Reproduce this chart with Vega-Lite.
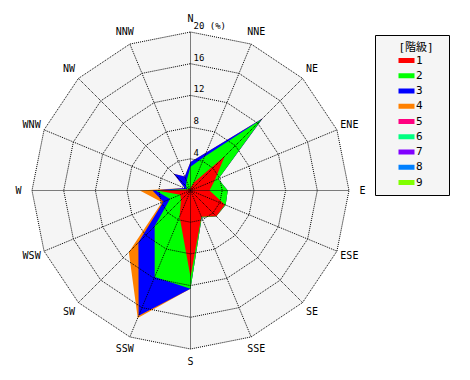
{
  "$schema": "https://vega.github.io/schema/vega-lite/v6.json",
  "width": 317,
  "height": 317,
  "autosize": "none",
  "padding": {"left": 32, "top": 32, "right": 121, "bottom": 31},
  "background": "white",
  "config": {"view": {"stroke": null}, "font": "DejaVu Sans Mono"},
  "datasets": {
    "wind": [
      {"cls": "1", "d": 0, "v": 0.3}, {"cls": "1", "d": 1, "v": 1.1}, {"cls": "1", "d": 2, "v": 6.1}, {"cls": "1", "d": 3, "v": 3.3},
      {"cls": "1", "d": 4, "v": 2.4}, {"cls": "1", "d": 5, "v": 4.7}, {"cls": "1", "d": 6, "v": 4.6}, {"cls": "1", "d": 7, "v": 3.6},
      {"cls": "1", "d": 8, "v": 10.9}, {"cls": "1", "d": 9, "v": 3.6}, {"cls": "1", "d": 10, "v": 1.7}, {"cls": "1", "d": 11, "v": 1.4},
      {"cls": "1", "d": 12, "v": 4.2}, {"cls": "1", "d": 13, "v": 0.3}, {"cls": "1", "d": 14, "v": 0.3}, {"cls": "1", "d": 15, "v": 0.2},
      {"cls": "2", "d": 0, "v": 3.0}, {"cls": "2", "d": 1, "v": 4.6}, {"cls": "2", "d": 2, "v": 12.7}, {"cls": "2", "d": 3, "v": 3.8},
      {"cls": "2", "d": 4, "v": 4.7}, {"cls": "2", "d": 5, "v": 4.8}, {"cls": "2", "d": 6, "v": 4.6}, {"cls": "2", "d": 7, "v": 3.7},
      {"cls": "2", "d": 8, "v": 12.4}, {"cls": "2", "d": 9, "v": 11.8}, {"cls": "2", "d": 10, "v": 6.4}, {"cls": "2", "d": 11, "v": 2.8},
      {"cls": "2", "d": 12, "v": 4.4}, {"cls": "2", "d": 13, "v": 0.5}, {"cls": "2", "d": 14, "v": 0.8}, {"cls": "2", "d": 15, "v": 1.3},
      {"cls": "3", "d": 0, "v": 3.6}, {"cls": "3", "d": 1, "v": 5.2}, {"cls": "3", "d": 2, "v": 12.9}, {"cls": "3", "d": 3, "v": 3.8},
      {"cls": "3", "d": 4, "v": 4.7}, {"cls": "3", "d": 5, "v": 4.8}, {"cls": "3", "d": 6, "v": 4.6}, {"cls": "3", "d": 7, "v": 3.7},
      {"cls": "3", "d": 8, "v": 12.4}, {"cls": "3", "d": 9, "v": 17.1}, {"cls": "3", "d": 10, "v": 9.3}, {"cls": "3", "d": 11, "v": 3.7},
      {"cls": "3", "d": 12, "v": 4.8}, {"cls": "3", "d": 13, "v": 0.8}, {"cls": "3", "d": 14, "v": 3.0}, {"cls": "3", "d": 15, "v": 1.9},
      {"cls": "4", "d": 0, "v": 3.6}, {"cls": "4", "d": 1, "v": 5.2}, {"cls": "4", "d": 2, "v": 12.9}, {"cls": "4", "d": 3, "v": 3.8},
      {"cls": "4", "d": 4, "v": 4.7}, {"cls": "4", "d": 5, "v": 4.8}, {"cls": "4", "d": 6, "v": 4.6}, {"cls": "4", "d": 7, "v": 3.7},
      {"cls": "4", "d": 8, "v": 12.4}, {"cls": "4", "d": 9, "v": 17.4}, {"cls": "4", "d": 10, "v": 11.0}, {"cls": "4", "d": 11, "v": 3.9},
      {"cls": "4", "d": 12, "v": 6.4}, {"cls": "4", "d": 13, "v": 0.8}, {"cls": "4", "d": 14, "v": 3.0}, {"cls": "4", "d": 15, "v": 1.9}
    ],
    "rings": [
      {"r": 4, "t": "4", "d": [0,1,2,3,4,5,6,7,8,9,10,11,12,13,14,15]},
      {"r": 8, "t": "8", "d": [0,1,2,3,4,5,6,7,8,9,10,11,12,13,14,15]},
      {"r": 12, "t": "12", "d": [0,1,2,3,4,5,6,7,8,9,10,11,12,13,14,15]},
      {"r": 16, "t": "16", "d": [0,1,2,3,4,5,6,7,8,9,10,11,12,13,14,15]},
      {"r": 20, "t": "20 (%)", "d": [0,1,2,3,4,5,6,7,8,9,10,11,12,13,14,15]}
    ],
    "dirs": [
      {"d": 0, "name": "N"}, {"d": 1, "name": "NNE"}, {"d": 2, "name": "NE"}, {"d": 3, "name": "ENE"},
      {"d": 4, "name": "E"}, {"d": 5, "name": "ESE"}, {"d": 6, "name": "SE"}, {"d": 7, "name": "SSE"},
      {"d": 8, "name": "S"}, {"d": 9, "name": "SSW"}, {"d": 10, "name": "SW"}, {"d": 11, "name": "WSW"},
      {"d": 12, "name": "W"}, {"d": 13, "name": "WNW"}, {"d": 14, "name": "NW"}, {"d": 15, "name": "NNW"}
    ]
  },
  "layer": [
    {
      "data": {"name": "rings"},
      "transform": [
        {"filter": "datum.r == 20"},
        {"flatten": ["d"]},
        {"calculate": "datum.r * sin(datum.d * PI / 8)", "as": "x"},
        {"calculate": "datum.r * cos(datum.d * PI / 8)", "as": "y"}
      ],
      "mark": {"type": "line", "interpolate": "linear-closed", "fill": "#f5f5f5", "strokeWidth": 0},
      "encoding": {
        "x": {"field": "x", "type": "quantitative", "scale": {"domain": [-20, 20], "nice": false, "zero": false}, "axis": null},
        "y": {"field": "y", "type": "quantitative", "scale": {"domain": [-20, 20], "nice": false, "zero": false}, "axis": null},
        "order": {"field": "d", "type": "quantitative"}
      }
    },
    {
      "data": {"name": "wind"},
      "transform": [
        {"calculate": "datum.v * sin(datum.d * PI / 8)", "as": "x"},
        {"calculate": "datum.v * cos(datum.d * PI / 8)", "as": "y"}
      ],
      "encoding": {
        "x": {"field": "x", "type": "quantitative", "scale": {"domain": [-20, 20], "nice": false, "zero": false}, "axis": null},
        "y": {"field": "y", "type": "quantitative", "scale": {"domain": [-20, 20], "nice": false, "zero": false}, "axis": null},
        "order": {"field": "d", "type": "quantitative"},
        "fill": {
          "field": "cls", "type": "nominal",
          "scale": {
            "domain": ["1", "2", "3", "4", "5", "6", "7", "8", "9"],
            "range": ["#ff0000", "#00ff00", "#0000ff", "#ff8000", "#ff0080", "#00ff80", "#8000ff", "#0080ff", "#80ff00"]
          },
          "legend": {
            "title": "\u2800\u2800[階級]\u2800",
            "orient": "none",
            "legendX": 343,
            "legendY": 3,
            "padding": 7,
            "fillColor": "#f5f5f5",
            "strokeColor": "black",
            "titleFont": "DejaVu Sans Mono, Noto Sans CJK JP",
            "titleFontSize": 11,
            "titleFontWeight": "normal",
            "titleColor": "black",
            "titlePadding": 2,
            "titleAnchor": "middle",
            "symbolType": "M-1.6,-0.5H1.6V0.5H-1.6Z",
            "symbolSize": 100,
            "symbolStrokeWidth": 0,
            "symbolOffset": 0,
            "labelOffset": 4,
            "labelFont": "DejaVu Sans Mono",
            "labelFontSize": 11,
            "labelColor": "black",
            "rowPadding": 3.25
          }
        }
      },
      "layer": [
        {"transform": [{"filter": "datum.cls == '4'"}], "mark": {"type": "line", "interpolate": "linear-closed", "strokeWidth": 0}},
        {"transform": [{"filter": "datum.cls == '3'"}], "mark": {"type": "line", "interpolate": "linear-closed", "strokeWidth": 0}},
        {"transform": [{"filter": "datum.cls == '2'"}], "mark": {"type": "line", "interpolate": "linear-closed", "strokeWidth": 0}},
        {"transform": [{"filter": "datum.cls == '1'"}], "mark": {"type": "line", "interpolate": "linear-closed", "strokeWidth": 0}}
      ]
    },
    {
      "data": {"name": "rings"},
      "transform": [
        {"flatten": ["d"]},
        {"calculate": "datum.r * sin(datum.d * PI / 8)", "as": "x"},
        {"calculate": "datum.r * cos(datum.d * PI / 8)", "as": "y"}
      ],
      "mark": {"type": "line", "interpolate": "linear-closed", "stroke": "black", "strokeWidth": 1, "strokeDash": [1, 1]},
      "encoding": {
        "x": {"field": "x", "type": "quantitative", "scale": {"domain": [-20, 20], "nice": false, "zero": false}, "axis": null},
        "y": {"field": "y", "type": "quantitative", "scale": {"domain": [-20, 20], "nice": false, "zero": false}, "axis": null},
        "detail": {"field": "r", "type": "nominal"},
        "order": {"field": "d", "type": "quantitative"}
      }
    },
    {
      "data": {"name": "dirs"},
      "transform": [
        {"calculate": "0", "as": "x0"},
        {"calculate": "20 * sin(datum.d * PI / 8)", "as": "x2"},
        {"calculate": "20 * cos(datum.d * PI / 8)", "as": "y2"}
      ],
      "mark": {"type": "rule", "stroke": "black", "strokeWidth": 1, "strokeDash": [1, 1]},
      "encoding": {
        "x": {"field": "x0", "type": "quantitative", "scale": {"domain": [-20, 20], "nice": false, "zero": false}, "axis": null},
        "y": {"field": "x0", "type": "quantitative", "scale": {"domain": [-20, 20], "nice": false, "zero": false}, "axis": null},
        "x2": {"field": "x2"},
        "y2": {"field": "y2"}
      }
    },
    {
      "data": {"name": "dirs"},
      "transform": [
        {"calculate": "21.7 * sin(datum.d * PI / 8)", "as": "x"},
        {"calculate": "21.7 * cos(datum.d * PI / 8)", "as": "y"}
      ],
      "mark": {"type": "text", "font": "DejaVu Sans Mono", "fontSize": 10, "fill": "black", "align": "center", "baseline": "middle"},
      "encoding": {
        "x": {"field": "x", "type": "quantitative", "scale": {"domain": [-20, 20], "nice": false, "zero": false}, "axis": null},
        "y": {"field": "y", "type": "quantitative", "scale": {"domain": [-20, 20], "nice": false, "zero": false}, "axis": null},
        "text": {"field": "name", "type": "nominal"}
      }
    },
    {
      "data": {"name": "rings"},
      "transform": [{"calculate": "0", "as": "x0"}],
      "mark": {"type": "text", "font": "DejaVu Sans Mono", "fontSize": 9, "fill": "black", "align": "left", "baseline": "bottom", "dx": 3, "dy": -1},
      "encoding": {
        "x": {"field": "x0", "type": "quantitative", "scale": {"domain": [-20, 20], "nice": false, "zero": false}, "axis": null},
        "y": {"field": "r", "type": "quantitative", "scale": {"domain": [-20, 20], "nice": false, "zero": false}, "axis": null},
        "text": {"field": "t", "type": "nominal"}
      }
    }
  ]
}
